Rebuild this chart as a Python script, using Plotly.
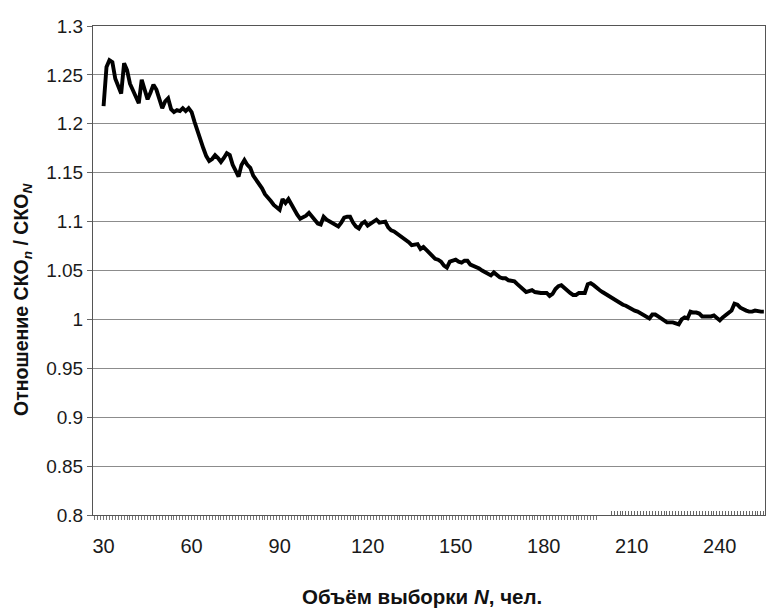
import plotly.graph_objects as go

# Sample size N and the ratio of standard deviations SKO_n / SKO_N
sample_n = list(range(30, 256))
ratio = [
    1.218, 1.258, 1.265, 1.263, 1.246, 1.238, 1.231, 1.262, 1.255, 1.241,
    1.235, 1.228, 1.221, 1.245, 1.236, 1.225, 1.232, 1.240, 1.235, 1.226,
    1.216, 1.223, 1.226, 1.215, 1.212, 1.214, 1.213, 1.216, 1.213, 1.216,
    1.212, 1.202, 1.192, 1.183, 1.175, 1.167, 1.162, 1.164, 1.168, 1.165,
    1.161, 1.165, 1.170, 1.168, 1.158, 1.152, 1.146, 1.158, 1.163, 1.158,
    1.155, 1.147, 1.143, 1.139, 1.134, 1.128, 1.125, 1.121, 1.117, 1.114,
    1.112, 1.123, 1.119, 1.123, 1.117, 1.112, 1.107, 1.103, 1.104, 1.106,
    1.109, 1.105, 1.101, 1.098, 1.097, 1.105, 1.102, 1.100, 1.098, 1.096,
    1.095, 1.099, 1.104, 1.105, 1.105, 1.099, 1.095, 1.093, 1.098, 1.100,
    1.096, 1.098, 1.100, 1.102, 1.099, 1.100, 1.100, 1.094, 1.091, 1.090,
    1.088, 1.086, 1.083, 1.081, 1.079, 1.076, 1.077, 1.077, 1.072, 1.074,
    1.071, 1.068, 1.065, 1.062, 1.061, 1.059, 1.055, 1.053, 1.059, 1.060,
    1.061, 1.059, 1.058, 1.060, 1.060, 1.056, 1.055, 1.054, 1.052, 1.050,
    1.048, 1.046, 1.045, 1.048, 1.045, 1.043, 1.042, 1.042, 1.040, 1.039,
    1.039, 1.036, 1.033, 1.031, 1.028, 1.029, 1.030, 1.028, 1.027, 1.027,
    1.027, 1.027, 1.024, 1.026, 1.031, 1.034, 1.035, 1.032, 1.030, 1.027,
    1.025, 1.025, 1.027, 1.027, 1.027, 1.036, 1.037, 1.035, 1.032, 1.030,
    1.028, 1.026, 1.024, 1.022, 1.020, 1.018, 1.017, 1.015, 1.014, 1.012,
    1.010, 1.009, 1.008, 1.006, 1.004, 1.002, 1.001, 1.005, 1.005, 1.003,
    1.001, 0.999, 0.997, 0.997, 0.997, 0.996, 0.995, 1.000, 1.002, 1.001,
    1.008, 1.007, 1.007, 1.006, 1.003, 1.003, 1.003, 1.003, 1.004, 1.001,
    0.999, 1.002, 1.004, 1.007, 1.009, 1.016, 1.015, 1.012, 1.010, 1.009,
    1.008, 1.008, 1.009, 1.008, 1.008, 1.008,
]

x_tick_vals = [30, 60, 90, 120, 150, 180, 210, 240]
y_tick_vals = [0.8, 0.85, 0.9, 0.95, 1.0, 1.05, 1.1, 1.15, 1.2, 1.25, 1.3]
y_tick_text = ["0.8", "0.85", "0.9", "0.95", "1", "1.05", "1.1", "1.15", "1.2", "1.25", "1.3"]

# Small category ticks along the N axis (below the axis, then inside it)
minor_out = list(range(27, 199))
minor_in = list(range(203, 256))

x_range = [26.4, 255.4]
font_family = "Liberation Sans, Arial, sans-serif"

fig = go.Figure()
fig.add_trace(go.Scatter(
    x=sample_n, y=ratio, mode="lines",
    line=dict(color="black", width=3.9),
    hoverinfo="skip", showlegend=False,
))
# helper trace carrying the secondary tick axis
fig.add_trace(go.Scatter(
    x=sample_n, y=ratio, mode="lines", xaxis="x2",
    line=dict(color="rgba(0,0,0,0)", width=0),
    hoverinfo="skip", showlegend=False,
))

fig.update_layout(
    width=767, height=610,
    margin=dict(l=93, r=2, t=26, b=95),
    paper_bgcolor="white", plot_bgcolor="white",
    font=dict(family=font_family, size=19, color="#1a1a1a"),
    xaxis=dict(
        range=x_range, tickmode="array", tickvals=x_tick_vals,
        ticks="outside", ticklen=13, tickcolor="rgba(0,0,0,0)",
        tickfont=dict(size=20),
        showgrid=False, zeroline=False,
        showline=True, linecolor="#555555", linewidth=1, mirror=True,
        minor=dict(ticks="outside", tickmode="array", tickvals=minor_out,
                   ticklen=4, tickwidth=1, tickcolor="#777777", showgrid=False),
    ),
    xaxis2=dict(
        range=x_range, overlaying="x", anchor="y", side="bottom",
        tickmode="array", tickvals=minor_in, ticks="inside", ticklen=4,
        tickwidth=1, tickcolor="#666666", showticklabels=False,
        showgrid=False, zeroline=False, showline=False,
    ),
    yaxis=dict(
        range=[0.8, 1.3], tickmode="array", tickvals=y_tick_vals, ticktext=y_tick_text,
        ticks="outside", ticklen=5, tickcolor="#666666",
        showgrid=True, gridcolor="#8c8c8c", gridwidth=1, zeroline=False,
        showline=True, linecolor="#555555", linewidth=1, mirror=True,
    ),
    annotations=[
        dict(
            text="<b>Объём выборки <i>N</i>, чел.</b>",
            xref="paper", yref="paper", x=0.49, y=-0.166,
            xanchor="center", yanchor="middle", showarrow=False,
            font=dict(family=font_family, size=20.5, color="#111111"),
        ),
        dict(
            text="<b>Отношение СКО<sub><i>n</i></sub> / СКО<sub><i>N</i></sub></b>",
            xref="paper", yref="paper", x=-0.104, y=0.44, textangle=-90,
            xanchor="center", yanchor="middle", showarrow=False,
            font=dict(family=font_family, size=19.5, color="#111111"),
        ),
    ],
)

fig.write_html("out.html")
